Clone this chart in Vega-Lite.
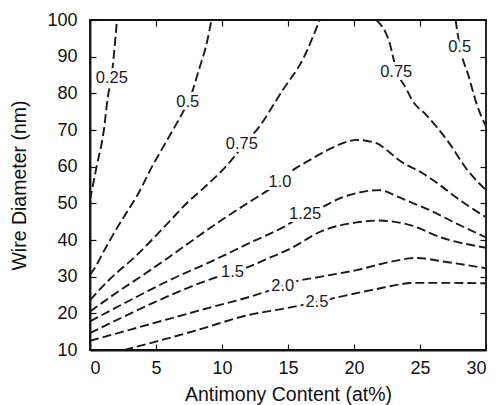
{
  "$schema": "https://vega.github.io/schema/vega-lite/v6.json",
  "autosize": "none",
  "padding": {"left": 90, "top": 20, "right": 11, "bottom": 55},
  "width": 396,
  "height": 330,
  "background": "white",
  "config": {
    "view": {"stroke": "#111", "strokeWidth": 1.8},
    "font": "Liberation Sans",
    "axis": {"grid": false, "domainColor": "#111", "domainWidth": 1.8, "tickColor": "#111", "tickWidth": 1.2, "labelColor": "#111", "titleColor": "#111", "labelFont": "Liberation Sans", "titleFont": "Liberation Sans", "labelFontSize": 18, "titleFontSize": 19.5, "titleFontWeight": "normal"}
  },
  "datasets": {
    "lines": [
      {"seg": "a", "i": 1, "x": 0, "y": 51}, {"seg": "a", "i": 2, "x": 0.5, "y": 60}, {"seg": "a", "i": 3, "x": 1.05, "y": 70}, {"seg": "a", "i": 4, "x": 1.35, "y": 79}, {"seg": "a", "i": 5, "x": 1.65, "y": 85}, {"seg": "a", "i": 6, "x": 1.85, "y": 92}, {"seg": "a", "i": 7, "x": 2.04, "y": 100},
      {"seg": "b", "i": 1, "x": 0, "y": 30.5}, {"seg": "b", "i": 2, "x": 0.4, "y": 32.6}, {"seg": "b", "i": 3, "x": 1.1, "y": 37.3}, {"seg": "b", "i": 4, "x": 2.0, "y": 43}, {"seg": "b", "i": 5, "x": 2.9, "y": 48.2}, {"seg": "b", "i": 6, "x": 3.6, "y": 52.3}, {"seg": "b", "i": 7, "x": 4.7, "y": 60}, {"seg": "b", "i": 8, "x": 5.9, "y": 67.6}, {"seg": "b", "i": 9, "x": 7.0, "y": 74.6}, {"seg": "b", "i": 10, "x": 7.5, "y": 78}, {"seg": "b", "i": 11, "x": 8.3, "y": 87}, {"seg": "b", "i": 12, "x": 8.8, "y": 93}, {"seg": "b", "i": 13, "x": 9.2, "y": 100},
      {"seg": "c", "i": 1, "x": 0, "y": 23.6}, {"seg": "c", "i": 2, "x": 1.5, "y": 29.3}, {"seg": "c", "i": 3, "x": 3.4, "y": 35.4}, {"seg": "c", "i": 4, "x": 5.9, "y": 44.6}, {"seg": "c", "i": 5, "x": 7.4, "y": 50.3}, {"seg": "c", "i": 6, "x": 8.5, "y": 53.8}, {"seg": "c", "i": 7, "x": 11, "y": 63}, {"seg": "c", "i": 8, "x": 11.6, "y": 65.8}, {"seg": "c", "i": 9, "x": 12.8, "y": 70.8}, {"seg": "c", "i": 10, "x": 14.6, "y": 80.9}, {"seg": "c", "i": 11, "x": 16.1, "y": 89.1}, {"seg": "c", "i": 12, "x": 17.4, "y": 100},
      {"seg": "d", "i": 1, "x": 21.7, "y": 100}, {"seg": "d", "i": 2, "x": 22.7, "y": 93.7}, {"seg": "d", "i": 3, "x": 23.2, "y": 86.5}, {"seg": "d", "i": 4, "x": 24, "y": 81}, {"seg": "d", "i": 5, "x": 24.4, "y": 78.2}, {"seg": "d", "i": 6, "x": 25.5, "y": 74}, {"seg": "d", "i": 7, "x": 27.2, "y": 66.5}, {"seg": "d", "i": 8, "x": 28.5, "y": 59.5}, {"seg": "d", "i": 9, "x": 30, "y": 53.6},
      {"seg": "e", "i": 1, "x": 27.7, "y": 100}, {"seg": "e", "i": 2, "x": 28, "y": 93}, {"seg": "e", "i": 3, "x": 28.7, "y": 84.5}, {"seg": "e", "i": 4, "x": 29.3, "y": 77}, {"seg": "e", "i": 5, "x": 30, "y": 71},
      {"seg": "f", "i": 1, "x": 0, "y": 20.5}, {"seg": "f", "i": 2, "x": 2, "y": 25.6}, {"seg": "f", "i": 3, "x": 4, "y": 30.4}, {"seg": "f", "i": 4, "x": 5.9, "y": 35.1}, {"seg": "f", "i": 5, "x": 8, "y": 40.5}, {"seg": "f", "i": 6, "x": 10, "y": 45.5}, {"seg": "f", "i": 7, "x": 12, "y": 50.2}, {"seg": "f", "i": 8, "x": 13.5, "y": 53.6}, {"seg": "f", "i": 9, "x": 14.4, "y": 55.8}, {"seg": "f", "i": 10, "x": 15.1, "y": 58.3}, {"seg": "f", "i": 11, "x": 16.5, "y": 61.5}, {"seg": "f", "i": 12, "x": 18, "y": 64.5}, {"seg": "f", "i": 13, "x": 19.2, "y": 66.5}, {"seg": "f", "i": 14, "x": 20.2, "y": 67.3}, {"seg": "f", "i": 15, "x": 21.7, "y": 66.4}, {"seg": "f", "i": 16, "x": 22.5, "y": 64.5}, {"seg": "f", "i": 17, "x": 23.4, "y": 61.8}, {"seg": "f", "i": 18, "x": 25.2, "y": 58.2}, {"seg": "f", "i": 19, "x": 26.5, "y": 55}, {"seg": "f", "i": 20, "x": 27.7, "y": 51.7}, {"seg": "f", "i": 21, "x": 30, "y": 46.2},
      {"seg": "g", "i": 1, "x": 0, "y": 17.8}, {"seg": "g", "i": 2, "x": 3, "y": 23.5}, {"seg": "g", "i": 3, "x": 6, "y": 29}, {"seg": "g", "i": 4, "x": 9.4, "y": 34.5}, {"seg": "g", "i": 5, "x": 12.1, "y": 39.2}, {"seg": "g", "i": 6, "x": 14.7, "y": 43.6}, {"seg": "g", "i": 7, "x": 16.3, "y": 47}, {"seg": "g", "i": 8, "x": 17.6, "y": 49}, {"seg": "g", "i": 9, "x": 19, "y": 51.5}, {"seg": "g", "i": 10, "x": 20.2, "y": 52.8}, {"seg": "g", "i": 11, "x": 21.9, "y": 53.6}, {"seg": "g", "i": 12, "x": 23.4, "y": 51.7}, {"seg": "g", "i": 13, "x": 24.5, "y": 50}, {"seg": "g", "i": 14, "x": 25.7, "y": 48.2}, {"seg": "g", "i": 15, "x": 27.7, "y": 44.6}, {"seg": "g", "i": 16, "x": 30, "y": 40.7},
      {"seg": "h", "i": 1, "x": 0, "y": 14.6}, {"seg": "h", "i": 2, "x": 2.5, "y": 19}, {"seg": "h", "i": 3, "x": 5, "y": 23.2}, {"seg": "h", "i": 4, "x": 8, "y": 27.8}, {"seg": "h", "i": 5, "x": 10.8, "y": 31.3}, {"seg": "h", "i": 6, "x": 12.1, "y": 32.8}, {"seg": "h", "i": 7, "x": 13.5, "y": 35}, {"seg": "h", "i": 8, "x": 15.1, "y": 37.5}, {"seg": "h", "i": 9, "x": 17.6, "y": 42.5}, {"seg": "h", "i": 10, "x": 20.2, "y": 44.8}, {"seg": "h", "i": 11, "x": 21.9, "y": 45.3}, {"seg": "h", "i": 12, "x": 24.4, "y": 43.9}, {"seg": "h", "i": 13, "x": 26.5, "y": 40.8}, {"seg": "h", "i": 14, "x": 30, "y": 37.9},
      {"seg": "k", "i": 1, "x": 0, "y": 12.5}, {"seg": "k", "i": 2, "x": 3, "y": 15.5}, {"seg": "k", "i": 3, "x": 6, "y": 18.5}, {"seg": "k", "i": 4, "x": 9, "y": 21.5}, {"seg": "k", "i": 5, "x": 12.1, "y": 24.5}, {"seg": "k", "i": 6, "x": 14.6, "y": 27.5}, {"seg": "k", "i": 7, "x": 15.1, "y": 28.2}, {"seg": "k", "i": 8, "x": 17.5, "y": 30}, {"seg": "k", "i": 9, "x": 20.2, "y": 31.8}, {"seg": "k", "i": 10, "x": 22.7, "y": 34}, {"seg": "k", "i": 11, "x": 24.7, "y": 35.1}, {"seg": "k", "i": 12, "x": 27, "y": 34}, {"seg": "k", "i": 13, "x": 30, "y": 32.3},
      {"seg": "m", "i": 1, "x": 2.6, "y": 10}, {"seg": "m", "i": 2, "x": 5, "y": 12.3}, {"seg": "m", "i": 3, "x": 8, "y": 15.3}, {"seg": "m", "i": 4, "x": 12.1, "y": 19.6}, {"seg": "m", "i": 5, "x": 14.7, "y": 21.3}, {"seg": "m", "i": 6, "x": 17.2, "y": 23.1}, {"seg": "m", "i": 7, "x": 18.9, "y": 24.5}, {"seg": "m", "i": 8, "x": 21.4, "y": 26.4}, {"seg": "m", "i": 9, "x": 24.7, "y": 28.3}, {"seg": "m", "i": 10, "x": 27, "y": 28.3}, {"seg": "m", "i": 11, "x": 30, "y": 28.2}
    ],
    "labels": [
      {"t": "0.25", "x": 1.65, "y": 84.2},
      {"t": "0.5", "x": 7.4, "y": 77.6},
      {"t": "0.75", "x": 11.5, "y": 66.2},
      {"t": "1.0", "x": 14.4, "y": 55.8},
      {"t": "1.25", "x": 16.3, "y": 47.1},
      {"t": "1.5", "x": 10.8, "y": 31.3},
      {"t": "2.0", "x": 14.6, "y": 27.5},
      {"t": "2.5", "x": 17.2, "y": 23.1},
      {"t": "0.75", "x": 23.2, "y": 85.8},
      {"t": "0.5", "x": 28, "y": 92.7}
    ],
    "frame": [{"x": 0, "y": 10}]
  },
  "layer": [
    {
      "data": {"name": "lines"},
      "mark": {"type": "line", "color": "#1a1a1a", "strokeWidth": 1.9, "strokeDash": [9, 4], "interpolate": "monotone", "clip": true},
      "encoding": {
        "x": {"field": "x", "type": "quantitative", "scale": {"domain": [0, 30], "nice": false, "zero": false},
          "axis": {"orient": "bottom", "values": [0, 5, 10, 15, 20, 25, 30], "tickSize": -6, "labelPadding": 15, "title": "Antimony Content (at%)", "titlePadding": 8}},
        "y": {"field": "y", "type": "quantitative", "scale": {"domain": [10, 100], "nice": false, "zero": false},
          "axis": {"orient": "left", "values": [10, 20, 30, 40, 50, 60, 70, 80, 90, 100], "tickSize": -6, "labelPadding": 19, "title": "Wire Diameter (nm)", "titlePadding": 17}},
        "detail": {"field": "seg"},
        "order": {"field": "i", "type": "quantitative"}
      }
    },
    {
      "data": {"name": "frame"},
      "mark": {"type": "point", "opacity": 0},
      "encoding": {
        "x": {"field": "x", "type": "quantitative",
          "axis": {"orient": "top", "values": [5, 10, 15, 20, 25], "labels": false, "title": null, "domain": false, "tickSize": -6}},
        "y": {"field": "y", "type": "quantitative",
          "axis": {"orient": "right", "values": [20, 30, 40, 50, 60, 70, 80, 90], "labels": false, "title": null, "domain": false, "tickSize": -6}}
      }
    },
    {
      "data": {"name": "labels"},
      "mark": {"type": "text", "fontSize": 16.5, "font": "Liberation Sans", "fill": "white", "stroke": "white", "strokeWidth": 6},
      "encoding": {
        "x": {"field": "x", "type": "quantitative", "axis": null},
        "y": {"field": "y", "type": "quantitative", "axis": null},
        "text": {"field": "t"}
      }
    },
    {
      "data": {"name": "labels"},
      "mark": {"type": "text", "fontSize": 16.5, "font": "Liberation Sans", "fill": "#1a1a1a"},
      "encoding": {
        "x": {"field": "x", "type": "quantitative", "axis": null},
        "y": {"field": "y", "type": "quantitative", "axis": null},
        "text": {"field": "t"}
      }
    }
  ],
  "resolve": {"axis": {"x": "independent", "y": "independent"}}
}
